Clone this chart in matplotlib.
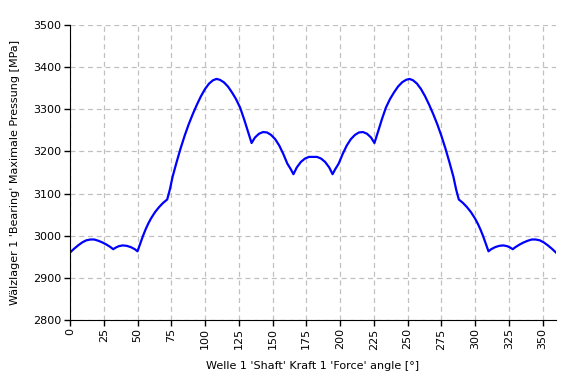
import matplotlib
matplotlib.use('Agg')
import matplotlib.pyplot as plt

angle = [0, 3, 6, 9, 12, 15, 18, 21, 24, 27, 30, 32, 34, 36, 39, 42, 45, 48,
         50, 52, 54, 56, 58, 60, 63, 66, 69, 72,
         74, 76, 79, 82, 85, 88, 91, 94, 97, 100, 103, 106, 108.5, 111, 114,
         117, 120, 123, 126, 129, 132, 134.5,
         137, 140, 143, 146, 149, 152, 155, 158, 161, 163.5, 165.5,
         168, 171, 174, 177, 180,
         183, 186, 189, 192, 194.5, 196.5, 199, 202, 205, 208, 211, 214, 217,
         220, 223, 225.5, 228, 231, 234, 237, 240, 243, 246, 249, 251.5, 254,
         257, 260, 263, 266, 269, 272, 275, 278, 281, 284, 286, 288,
         291, 294, 297, 300, 302, 304, 306, 308, 310, 312, 315, 318, 321, 324,
         326, 328, 330, 333, 336, 339, 342, 345, 348, 351, 354, 357, 360]
pressure = [2960, 2969, 2977, 2984, 2989, 2991, 2991, 2988, 2984, 2979, 2973,
            2968, 2972, 2975, 2977, 2976, 2973, 2968,
            2963, 2981, 2999, 3015, 3029, 3041, 3056, 3068, 3078, 3086,
            3110, 3140, 3175, 3208, 3238, 3265, 3289, 3311, 3331, 3348, 3361,
            3369, 3372, 3370, 3364,
            3354, 3340, 3324, 3304, 3276, 3245, 3220,
            3233, 3242, 3246, 3245, 3239, 3229, 3214, 3194, 3171, 3158, 3146,
            3162, 3175, 3183, 3187, 3187,
            3187, 3183, 3175, 3162, 3146, 3158, 3171, 3194, 3214, 3229, 3239,
            3245, 3246, 3242, 3233, 3220, 3245, 3276, 3304, 3324, 3340, 3354,
            3364, 3370, 3372, 3369, 3361, 3348, 3331, 3311, 3289, 3265, 3238,
            3208, 3175, 3140, 3110, 3086,
            3078, 3068, 3056, 3041, 3029, 3015, 2999, 2981, 2963, 2968, 2973,
            2976, 2977, 2975, 2972, 2968, 2973, 2979, 2984, 2988, 2991, 2991,
            2989, 2984, 2977, 2969, 2960]

xticks = list(range(0, 351, 25))
yticks = list(range(2800, 3501, 100))

fig = plt.figure(figsize=(5.66, 3.77), dpi=100)
ax = fig.add_axes([70/566, 1 - 320/377, 486/566, 295/377])

ax.plot(angle, pressure, color='#0000ff', lw=1.6)

ax.set_xlim(0, 360)
ax.set_ylim(2800, 3500)
ax.set_xticks(xticks)
ax.set_yticks(yticks)
ax.tick_params(axis='x', labelrotation=90)
ax.tick_params(direction='out', length=4, width=1, labelsize=8, pad=2)
ax.grid(True, color='#c0c0c0', linestyle=(0, (4, 3)), lw=0.9)
ax.set_axisbelow(True)
for s in ['top', 'right']:
    ax.spines[s].set_visible(False)

ax.set_xlabel("Welle 1 'Shaft' Kraft 1 'Force' angle [°]", fontsize=8, labelpad=8)
ax.set_ylabel("Wälzlager 1 'Bearing' Maximale Pressung [MPa]", fontsize=8, labelpad=10)

fig.savefig('out.png', dpi=100)
